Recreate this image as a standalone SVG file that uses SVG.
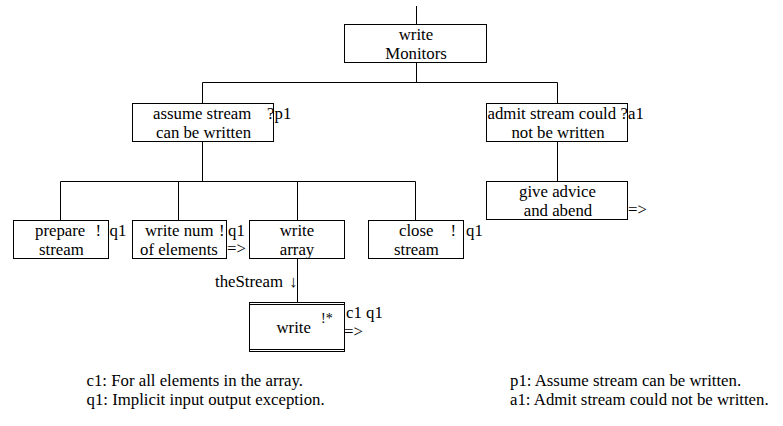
<svg xmlns="http://www.w3.org/2000/svg" width="783" height="426" viewBox="0 0 783 426" font-family="Liberation Serif, Tinos, DejaVu Serif, serif" font-size="16.8">
<style>
text{font-family:'Liberation Serif','Tinos','DejaVu Serif',serif;font-size:16.8px;fill:#000}
.c{text-anchor:middle}
.sm{font-size:14px}
rect,line{fill:#fff;stroke:#000;stroke-width:1}
</style>
<rect x="0" y="0" width="783" height="426" style="stroke:none"/>
<g id="connectors">
<line x1="416.5" y1="6" x2="416.5" y2="24"/>
<line x1="416.5" y1="63" x2="416.5" y2="82.5"/>
<line x1="202.5" y1="82.5" x2="557.5" y2="82.5"/>
<line x1="202.5" y1="82.5" x2="202.5" y2="103"/>
<line x1="557.5" y1="82.5" x2="557.5" y2="103"/>
<line x1="202.5" y1="142" x2="202.5" y2="181.5"/>
<line x1="60.5" y1="181.5" x2="415.5" y2="181.5"/>
<line x1="60.5" y1="181.5" x2="60.5" y2="220"/>
<line x1="178.5" y1="181.5" x2="178.5" y2="220"/>
<line x1="297.5" y1="181.5" x2="297.5" y2="220"/>
<line x1="415.5" y1="181.5" x2="415.5" y2="220"/>
<line x1="557.5" y1="142" x2="557.5" y2="181"/>
<line x1="297.5" y1="259" x2="297.5" y2="302"/>
<text x="215" y="287">theStream</text>
<text x="289" y="287">↓</text>
</g>
<g id="writeMonitors">
<rect x="344.5" y="24.5" width="142" height="38"/>
<text class="c" x="416" y="39.5">write</text>
<text class="c" x="416" y="58.5">Monitors</text>
</g>
<g id="assumeStream">
<rect x="132.5" y="103.5" width="141" height="38"/>
<text x="153" y="119">assume stream</text>
<text x="267" y="119">?</text>
<text x="274.5" y="119">p1</text>
<text x="156" y="138">can be written</text>
</g>
<g id="admitStream">
<rect x="486.5" y="103.5" width="141" height="38"/>
<text x="487.5" y="119">admit stream could</text>
<text x="620.5" y="119">?</text>
<text x="628" y="119">a1</text>
<text class="c" x="558" y="138">not be written</text>
</g>
<g id="giveAdvice">
<rect x="486.5" y="181.5" width="141" height="38"/>
<text class="c" x="557.5" y="197">give advice</text>
<text class="c" x="558" y="216">and abend</text>
<text x="628" y="215">=&gt;</text>
</g>
<g id="prepareStream">
<rect x="13.5" y="220.5" width="95" height="38"/>
<text x="35" y="236">prepare</text>
<text x="95.5" y="236">!</text>
<text x="109.5" y="236">q1</text>
<text x="39" y="255">stream</text>
</g>
<g id="writeNum">
<rect x="132.5" y="220.5" width="94" height="38"/>
<text x="145" y="236">write num</text>
<text x="219" y="236">!</text>
<text x="228" y="236">q1</text>
<text x="140" y="255">of elements</text>
<text x="227" y="253.5">=&gt;</text>
</g>
<g id="writeArray">
<rect x="249.5" y="220.5" width="95" height="38"/>
<text class="c" x="297" y="236">write</text>
<text class="c" x="297" y="255">array</text>
</g>
<g id="closeStream">
<rect x="368.5" y="220.5" width="95" height="38"/>
<text x="399" y="236">close</text>
<text x="450.5" y="236">!</text>
<text x="466" y="236">q1</text>
<text x="394" y="255">stream</text>
</g>
<g id="write">
<rect x="249.5" y="302.5" width="95" height="49"/>
<line x1="249.5" y1="304.5" x2="344.5" y2="304.5"/>
<line x1="249.5" y1="349.5" x2="344.5" y2="349.5"/>
<text x="276.5" y="333">write</text>
<text class="sm" x="321" y="323">!*</text>
<text x="346" y="318">c1 q1</text>
<text x="344" y="337">=&gt;</text>
</g>
<g id="legend">
<text x="86.5" y="385.5">c1: For all elements in the array.</text>
<text x="86.5" y="404.5">q1: Implicit input output exception.</text>
<text x="510" y="385.5">p1: Assume stream can be written.</text>
<text x="510" y="404.5">a1: Admit stream could not be written.</text>
</g>
</svg>
